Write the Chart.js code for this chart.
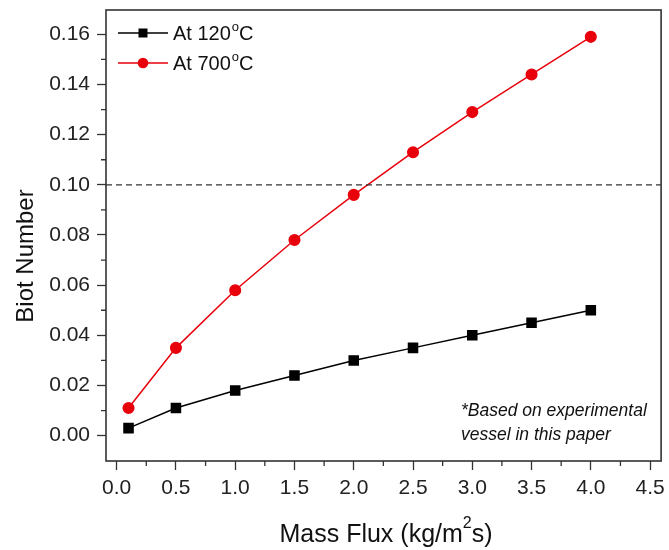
<!DOCTYPE html>
<html>
<head>
<meta charset="utf-8">
<script src="https://cdn.jsdelivr.net/npm/chart.js@4"></script>
<style>
  html, body { margin: 0; padding: 0; background: #fff; }
  #wrap { width: 669px; height: 550px; }
</style>
</head>
<body>
<div id="wrap"><canvas id="biotChart" width="669" height="550"></canvas></div>
<script>
// Data
const massFlux = [0.1, 0.5, 1.0, 1.5, 2.0, 2.5, 3.0, 3.5, 4.0];
const biotAt120 = [0.003, 0.011, 0.018, 0.024, 0.030, 0.035, 0.040, 0.045, 0.050];
const biotAt700 = [0.011, 0.035, 0.058, 0.078, 0.096, 0.113, 0.129, 0.144, 0.159];
const xTickValues = [0, 0.5, 1.0, 1.5, 2.0, 2.5, 3.0, 3.5, 4.0, 4.5];
const yTickValues = [0, 0.02, 0.04, 0.06, 0.08, 0.10, 0.12, 0.14, 0.16];
const thresholdValue = 0.10;

const FONT = '"Liberation Sans", Arial, sans-serif';
const AXIS_COLOR = '#333';

/**
 * Frame, minor ticks, threshold line, legend, titles and note
 */
const decorations = {
  id: 'decorations',
  afterDraw(chart) {
    const ctx = chart.ctx;
    const area = chart.chartArea;
    const xs = chart.scales.x;
    const ys = chart.scales.y;

    ctx.save();

    // dashed threshold
    const yT = ys.getPixelForValue(thresholdValue);
    ctx.strokeStyle = '#333';
    ctx.lineWidth = 1.3;
    ctx.setLineDash([6, 4]);
    ctx.beginPath();
    ctx.moveTo(area.left, yT);
    ctx.lineTo(area.right, yT);
    ctx.stroke();
    ctx.setLineDash([]);

    // frame
    ctx.strokeStyle = AXIS_COLOR;
    ctx.lineWidth = 1.6;
    ctx.strokeRect(area.left, area.top, area.right - area.left, area.bottom - area.top);

    // minor ticks
    ctx.lineWidth = 1.3;
    ctx.beginPath();
    for (let i = 0; i < xTickValues.length - 1; i++) {
      const px = xs.getPixelForValue((xTickValues[i] + xTickValues[i + 1]) / 2);
      ctx.moveTo(px, area.bottom);
      ctx.lineTo(px, area.bottom + 5);
    }
    for (let i = 0; i < yTickValues.length; i++) {
      const py = ys.getPixelForValue(yTickValues[i] + 0.01);
      if (py < area.top) continue;
      ctx.moveTo(area.left, py);
      ctx.lineTo(area.left - 5, py);
    }
    ctx.stroke();

    // legend
    const entries = [
      { label: '120', color: '#000', style: 'rect' },
      { label: '700', color: '#e8000b', style: 'circle' }
    ];
    entries.forEach((e, i) => {
      const ly = area.top + 23 + i * 30;
      ctx.strokeStyle = e.color;
      ctx.fillStyle = e.color;
      ctx.lineWidth = 1.5;
      ctx.beginPath();
      ctx.moveTo(area.left + 12, ly);
      ctx.lineTo(area.left + 62, ly);
      ctx.stroke();
      ctx.beginPath();
      if (e.style === 'rect') {
        ctx.rect(area.left + 37 - 4.5, ly - 4.5, 9, 9);
      } else {
        ctx.arc(area.left + 37, ly, 5.3, 0, Math.PI * 2);
      }
      ctx.fill();

      ctx.fillStyle = '#111';
      ctx.textBaseline = 'alphabetic';
      ctx.textAlign = 'left';
      ctx.font = '20px ' + FONT;
      let tx = area.left + 67;
      const t1 = 'At ' + e.label;
      ctx.fillText(t1, tx, ly + 7);
      tx += ctx.measureText(t1).width;
      ctx.font = '13px ' + FONT;
      ctx.fillText('o', tx + 1, ly - 2);
      tx += ctx.measureText('o').width + 1;
      ctx.font = '20px ' + FONT;
      ctx.fillText('C', tx, ly + 7);
    });

    // note
    ctx.fillStyle = '#111';
    ctx.font = 'italic 17.5px ' + FONT;
    ctx.textAlign = 'left';
    ctx.textBaseline = 'middle';
    ctx.fillText('*Based on experimental', 461, 411);
    ctx.fillText('vessel in this paper', 461, 435);

    // y title
    ctx.font = '24px ' + FONT;
    ctx.textBaseline = 'alphabetic';
    ctx.save();
    ctx.translate(33, 256);
    ctx.rotate(-Math.PI / 2);
    ctx.textAlign = 'center';
    ctx.fillText('Biot Number', 0, 0);
    ctx.restore();

    // x title with superscript
    const part1 = 'Mass Flux (kg/m';
    const part2 = '2';
    const part3 = 's)';
    ctx.font = '25px ' + FONT;
    const w1 = ctx.measureText(part1).width;
    const w3 = ctx.measureText(part3).width;
    ctx.font = '16px ' + FONT;
    const w2 = ctx.measureText(part2).width;
    let sx = 386 - (w1 + w2 + w3) / 2;
    const sy = 542;
    ctx.textAlign = 'left';
    ctx.font = '25px ' + FONT;
    ctx.fillText(part1, sx, sy);
    sx += w1;
    ctx.font = '16px ' + FONT;
    ctx.fillText(part2, sx, 528);
    sx += w2;
    ctx.font = '25px ' + FONT;
    ctx.fillText(part3, sx, sy);

    ctx.restore();
  }
};

const ctx = document.getElementById('biotChart').getContext('2d');
new Chart(ctx, {
  type: 'line',
  data: {
    labels: massFlux,
    datasets: [{
      label: 'At 120°C',
      data: massFlux.map((x, i) => ({ x: x, y: biotAt120[i] })),
      borderColor: '#000',
      backgroundColor: '#000',
      borderWidth: 1.5,
      pointStyle: 'rect',
      pointRadius: 6.4,
      pointHoverRadius: 6.4,
      tension: 0
    }, {
      label: 'At 700°C',
      data: massFlux.map((x, i) => ({ x: x, y: biotAt700[i] })),
      borderColor: '#e8000b',
      backgroundColor: '#e8000b',
      borderWidth: 1.5,
      pointStyle: 'circle',
      pointRadius: 5.3,
      pointHoverRadius: 5.3,
      tension: 0
    }]
  },
  options: {
    responsive: false,
    animation: false,
    layout: { padding: { left: 0, top: 10, right: 6, bottom: 0 } },
    plugins: {
      legend: { display: false },
      tooltip: { enabled: false }
    },
    scales: {
      x: {
        type: 'linear',
        min: -0.09,
        max: 4.593,
        afterFit: (scale) => {
          scale.height = 89;
          scale.paddingLeft = 0;
          scale.paddingRight = 0;
        },
        afterBuildTicks: (scale) => { scale.ticks = xTickValues.map(v => ({ value: v })); },
        grid: { drawOnChartArea: false, tickLength: 9, tickColor: AXIS_COLOR, tickWidth: 1.3 },
        border: { display: false },
        ticks: {
          color: '#222',
          font: { family: FONT, size: 21 },
          padding: 6,
          maxRotation: 0,
          callback: (v) => v.toFixed(1)
        }
      },
      y: {
        min: -0.0101,
        max: 0.1697,
        afterFit: (scale) => {
          scale.width = 106;
          scale.paddingTop = 0;
          scale.paddingBottom = 0;
        },
        afterBuildTicks: (scale) => { scale.ticks = yTickValues.map(v => ({ value: v })); },
        grid: { drawOnChartArea: false, tickLength: 9, tickColor: AXIS_COLOR, tickWidth: 1.3 },
        border: { display: false },
        ticks: {
          color: '#222',
          font: { family: FONT, size: 21 },
          padding: 7,
          callback: (v) => v.toFixed(2)
        }
      }
    }
  },
  plugins: [decorations]
});
</script>
</body>
</html>
